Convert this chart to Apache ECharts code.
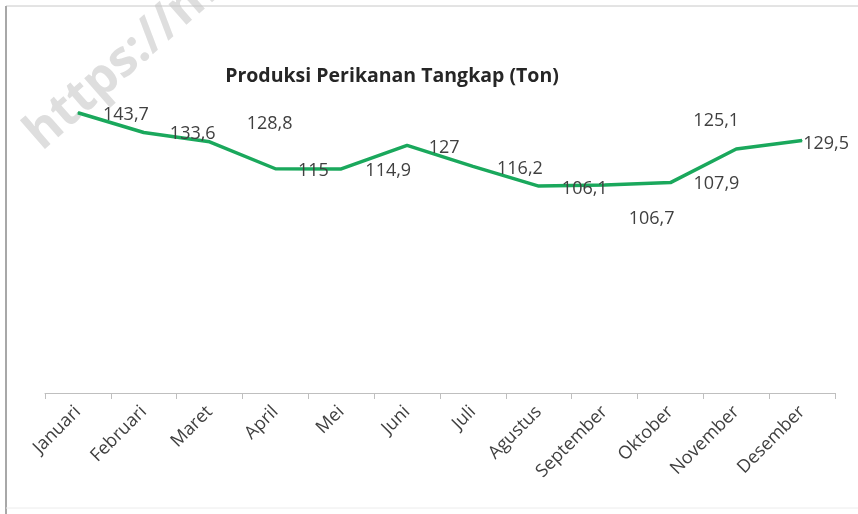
<!DOCTYPE html>
<html>
<head>
<meta charset="utf-8">
<script src="https://cdn.jsdelivr.net/npm/echarts@6/dist/echarts.min.js"></script>
<style>
  html, body { margin: 0; padding: 0; background: #fff; }
  #chart { width: 858px; height: 514px; }
</style>
</head>
<body>
<div id="chart"></div>
<script>
// data
var months = ["Januari", "Februari", "Maret", "April", "Mei", "Juni", "Juli",
  "Agustus", "September", "Oktober", "November", "Desember"];
var produksi = [143.7, 133.6, 128.8, 115, 114.9, 127, 116.2, 106.1, 106.7, 107.9, 125.1, 129.5];

// where Excel placed each data label, relative to its point
var labelShift = [[48, 2], [49, 1], [60, -18], [38, 2], [47, 2], [37, 3],
  [47, 2], [46, 3], [47, 34], [46, 1], [-20, -28], [24, 3]];

var chart = echarts.init(document.getElementById("chart"));

var seriesData = produksi.map(function (v, i) {
  return { value: v, label: { offset: labelShift[i] } };
});

var option = {
  animation: false,
  backgroundColor: "#fff",
  title: {
    text: "Produksi Perikanan Tangkap (Ton)",
    left: 387,
    textAlign: "center",
    top: 61,
    textStyle: { fontFamily: "Open Sans", fontWeight: "bold", fontSize: 19.5, color: "#262626" }
  },
  graphic: [
    {
      type: "text",
      x: 16, y: 122,
      rotation: 0.72,
      z: -10,
      style: {
        text: "https://m",
        font: "bold 50px 'Open Sans'",
        fill: "#dedede"
      }
    },
    { type: "line", shape: { x1: 6, y1: 6, x2: 858, y2: 6 }, style: { stroke: "#c8c8c8", lineWidth: 1 } },
    { type: "line", shape: { x1: 6, y1: 6, x2: 6, y2: 514 }, style: { stroke: "#a8a8a8", lineWidth: 2 } },
    { type: "line", shape: { x1: 6, y1: 508, x2: 858, y2: 508 }, style: { stroke: "#ececec", lineWidth: 1 } }
  ],
  grid: { left: 45, right: 23, top: 81, bottom: 121 },
  xAxis: {
    type: "category",
    data: months,
    boundaryGap: true,
    axisLine: { lineStyle: { color: "#bfbfbf", width: 1 } },
    axisTick: { show: true, length: 6, lineStyle: { color: "#bfbfbf" } },
    axisLabel: {
      rotate: 45,
      interval: 0,
      margin: 16,
      fontFamily: "Open Sans",
      fontSize: 18,
      color: "#404040"
    }
  },
  yAxis: {
    type: "value",
    min: 0,
    max: 160,
    show: false
  },
  series: [
    {
      type: "line",
      data: seriesData,
      symbol: "circle",
      symbolSize: 1,
      itemStyle: { color: "#1aa85c" },
      lineStyle: { color: "#1aa85c", width: 3.5 },
      label: {
        show: true,
        position: "inside",
        fontFamily: "Open Sans",
        fontSize: 18,
        color: "#404040",
        formatter: function (p) {
          return String(p.value).replace(".", ",");
        }
      }
    }
  ]
};

chart.setOption(option);
</script>
</body>
</html>
